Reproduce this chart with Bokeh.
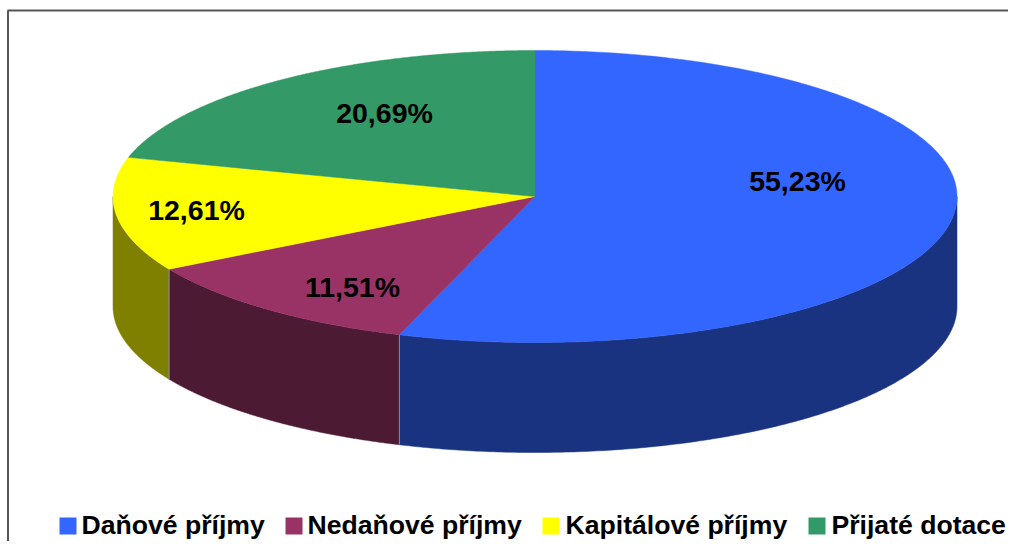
import numpy as np
from bokeh.plotting import figure
from bokeh.embed import file_html
from bokeh.resources import INLINE
from bokeh.core.properties import value

categories = ["Daňové příjmy", "Nedaňové příjmy", "Kapitálové příjmy", "Přijaté dotace"]
shares = [55.23, 11.51, 12.61, 20.69]
labels = ["55,23%", "11,51%", "12,61%", "20,69%"]
top_colors = ["#3366FF", "#993366", "#FFFF00", "#339966"]
side_colors = ["#1A3380", "#4D1A33", "#808000", "#1A4D33"]

W, H = 1008, 541
cx, cy, rx, ry, depth = 534.5, 196.0, 422.0, 146.0, 110.0
label_x = [797, 352, 196, 384]
label_y = [180, 286, 209, 112]
swatch_x = [59, 285, 542, 808]
text_x = [81, 307, 565, 831]

p = figure(width=W, height=H, output_backend="svg", toolbar_location=None,
           x_range=(0, W), y_range=(H, 0), x_axis_location=None, y_axis_location=None,
           min_border=0, outline_line_color=None, background_fill_color="white",
           border_fill_color="white", tools="")
p.grid.visible = False

def px(t):
    return cx + rx * np.sin(t)

def py(t):
    return cy - ry * np.cos(t)

edges = np.radians(np.concatenate([[0], np.cumsum(shares)]) / sum(shares) * 360)

# sides (front half only)
for i in range(4):
    a, b = max(edges[i], np.pi / 2), min(edges[i + 1], 3 * np.pi / 2)
    if b <= a:
        continue
    t = np.linspace(a, b, 200)
    xs = np.concatenate([px(t), px(t)[::-1]])
    ys = np.concatenate([py(t), py(t)[::-1] + depth])
    p.patch(xs, ys, fill_color=side_colors[i], line_color=side_colors[i], line_width=0.5)
    for e in (a, b):
        if 0.5 * np.pi < e < 1.5 * np.pi:
            p.segment([px(e)], [py(e)], [px(e)], [py(e) + depth], line_color="#8a8a8a", line_width=1)

# top faces
for i in range(4):
    t = np.linspace(edges[i], edges[i + 1], 300)
    xs = np.concatenate([[cx], px(t)])
    ys = np.concatenate([[cy], py(t)])
    p.patch(xs, ys, fill_color=top_colors[i], line_color=top_colors[i], line_width=0.5)

# percentage labels
p.text(label_x, label_y, text=labels, text_font=value("Liberation Sans"), text_font_style="bold",
       text_font_size="28.5px", text_color="black", text_align="center", text_baseline="middle")

# frame
p.segment([7, 7.5], [10, 10], [W, 7.5], [10, H], line_color="#555555", line_width=2)

# legend
p.rect([x + 8.5 for x in swatch_x], [525.5] * 4, width=17, height=17,
       fill_color=top_colors, line_color=None)
p.text(text_x, [524.5] * 4, text=categories, text_font=value("Liberation Sans"), text_font_style="bold",
       text_font_size="26.6px", text_color="black", text_align="left", text_baseline="middle")

open("out.html", "w").write(file_html(p, INLINE))
